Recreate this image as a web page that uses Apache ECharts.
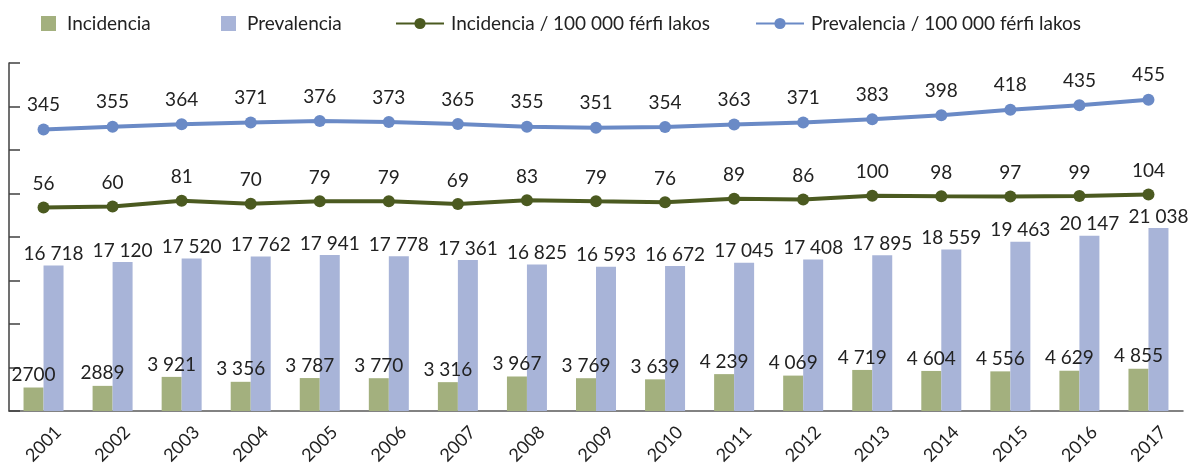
<!DOCTYPE html>
<html>
<head>
<meta charset="utf-8">
<script src="https://cdn.jsdelivr.net/npm/echarts@6/dist/echarts.min.js"></script>
<style>
  html, body { margin: 0; padding: 0; background: #fff; }
  #chart { width: 1199px; height: 467px; }
</style>
</head>
<body>
<!-- chart container -->
<div id="chart"></div>
<script>
// categories
const years = ['2001', '2002', '2003', '2004', '2005', '2006', '2007', '2008', '2009',
  '2010', '2011', '2012', '2013', '2014', '2015', '2016', '2017'];

// bar values (left axis)
const incidencia = [2700, 2889, 3921, 3356, 3787, 3770, 3316, 3967, 3769, 3639,
  4239, 4069, 4719, 4604, 4556, 4629, 4855];
const prevalencia = [16718, 17120, 17520, 17762, 17941, 17778, 17361, 16825, 16593,
  16672, 17045, 17408, 17895, 18559, 19463, 20147, 21038];

// line values per 100 000 (right axis, hidden)
const incidenciaRate = [56, 60, 81, 70, 79, 79, 69, 83, 79, 76, 89, 86, 100, 98, 97, 99, 104];
const prevalenciaRate = [345, 355, 364, 371, 376, 373, 365, 355, 351, 354, 363, 371,
  383, 398, 418, 435, 455];

const names = ['Incidencia', 'Prevalencia',
  'Incidencia / 100 000 férfi lakos', 'Prevalencia / 100 000 férfi lakos'];

const font = 'Lato, "Open Sans", sans-serif';
const textColor = '#222';

// thousands with a space (the source prints values under 3000 without it)
const fmt = (v) => v < 3000 ? String(v) : String(v).replace(/\B(?=(\d{3})+(?!\d))/g, ' ');

const chart = echarts.init(document.getElementById('chart'));

const legendBase = {
  top: 9,
  itemHeight: 15,
  itemWidth: 15,
  textStyle: { fontFamily: font, fontSize: 19, color: textColor, padding: [0, 0, 0, 6] }
};

const option = {
  animation: false,
  textStyle: { fontFamily: font },
  legend: [
    Object.assign({}, legendBase, { left: 36, data: [{ name: names[0], icon: 'rect' }] }),
    Object.assign({}, legendBase, { left: 216, data: [{ name: names[1], icon: 'rect' }] }),
    Object.assign({}, legendBase, { left: 390, itemWidth: 48, itemHeight: 14, data: [names[2]],
      textStyle: Object.assign({}, legendBase.textStyle, { padding: [0, 0, 0, 2] }) }),
    Object.assign({}, legendBase, { left: 750, itemWidth: 48, itemHeight: 14, data: [names[3]],
      textStyle: Object.assign({}, legendBase.textStyle, { padding: [0, 0, 0, 2] }) })
  ],
  grid: { left: 9, right: 16, top: 63, bottom: 56, containLabel: false, outerBoundsMode: 'none' },
  xAxis: {
    type: 'category',
    data: years,
    axisLine: { lineStyle: { color: '#595959', width: 1.5 } },
    axisTick: { show: false },
    axisLabel: {
      rotate: 45,
      align: 'center',
      verticalAlign: 'middle',
      margin: 33,
      fontFamily: font,
      fontSize: 18,
      color: textColor
    }
  },
  yAxis: [
    {
      type: 'value',
      min: 0,
      max: 40000,
      interval: 5000,
      axisLine: { show: true, lineStyle: { color: '#404040', width: 1.5 } },
      axisTick: { show: true, inside: true, length: 11, lineStyle: { color: '#404040', width: 1.5 } },
      axisLabel: { show: false },
      splitLine: { show: false }
    },
    {
      type: 'value',
      min: -697,
      max: 591,
      show: false,
      splitLine: { show: false }
    }
  ],
  series: [
    {
      name: names[0],
      type: 'bar',
      data: incidencia,
      barWidth: 20,
      barGap: '0%',
      itemStyle: { color: '#a3b07e' },
      label: {
        show: true, position: 'top', distance: 3,
        fontSize: 19, color: textColor, fontFamily: font,
        formatter: (p) => fmt(p.value)
      }
    },
    {
      name: names[1],
      type: 'bar',
      data: prevalencia,
      barWidth: 20,
      itemStyle: { color: '#a8b4d8' },
      label: {
        show: true, position: 'top', distance: 2,
        fontSize: 19, color: textColor, fontFamily: font,
        formatter: (p) => fmt(p.value)
      }
    },
    {
      name: names[2],
      type: 'line',
      yAxisIndex: 1,
      data: incidenciaRate,
      symbol: 'circle',
      symbolSize: 12,
      lineStyle: { color: '#4b5a20', width: 4 },
      itemStyle: { color: '#4b5a20' },
      label: {
        show: true, position: 'top', distance: 8,
        fontSize: 19, color: textColor, fontFamily: font
      }
    },
    {
      name: names[3],
      type: 'line',
      yAxisIndex: 1,
      data: prevalenciaRate,
      symbol: 'circle',
      symbolSize: 12,
      lineStyle: { color: '#6a8ac6', width: 4 },
      itemStyle: { color: '#6a8ac6' },
      label: {
        show: true, position: 'top', distance: 9,
        fontSize: 19, color: textColor, fontFamily: font
      }
    }
  ]
};

chart.setOption(option);
</script>
</body>
</html>
